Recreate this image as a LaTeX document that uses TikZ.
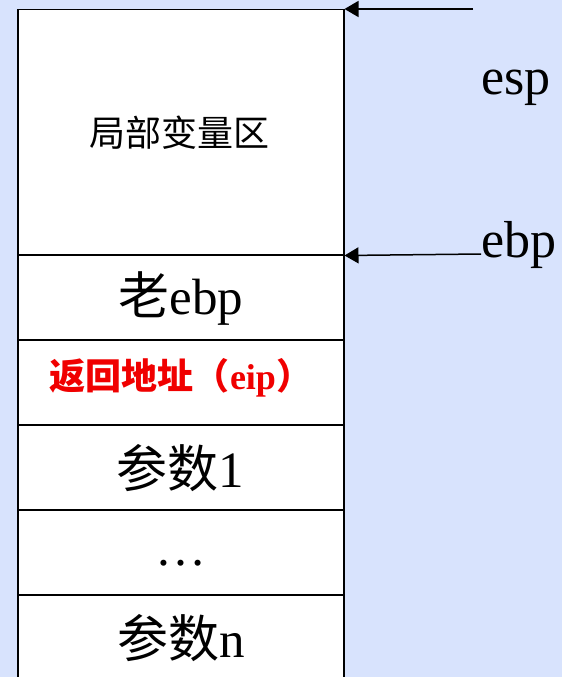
\documentclass[tikz,border=0pt]{standalone}
\usepackage{fontspec}
\setmainfont{Liberation Serif}
\newfontfamily\cjk{Noto Sans CJK SC}
\usetikzlibrary{arrows.meta}
\definecolor{bgblue}{RGB}{216,227,253}
\definecolor{retred}{RGB}{240,0,0}
\begin{document}
\begin{tikzpicture}[x=1pt,y=-1pt,
  cell/.style={draw=black,line width=1.5pt,fill=white,minimum width=326pt,inner sep=0pt,anchor=north west},
  ptr/.style={draw=black,line width=1.5pt,arrows={-Triangle[length=14pt,width=16pt,fill=black]}},
  big/.style={inner sep=0pt,font=\fontsize{51}{51}\selectfont},
  lab/.style={inner sep=0pt,font=\fontsize{52}{52}\selectfont}]
\useasboundingbox (0,0) rectangle (562,677);
\fill[bgblue] (0,0) rectangle (562,677);
\node[cell,minimum height=245pt] (local) at (17,9) {};
\node[cell,minimum height=85pt] (oldebp) at (17,254) {};
\node[cell,minimum height=85pt] (ret) at (17,339) {};
\node[cell,minimum height=85pt] (arg1) at (17,424) {};
\node[cell,minimum height=85pt] (dots) at (17,509) {};
\node[cell,minimum height=100pt] (argn) at (17,594) {};
\node[inner sep=0pt,font=\fontsize{36}{36}\selectfont\cjk] at (179,133) {局部变量区};
\node[big] at (181,299) {{\cjk 老}ebp};
\node[inner sep=0pt,font=\fontsize{36}{36}\selectfont\bfseries,text=retred] at (181,378) {{\cjk 返回地址（}eip{\cjk ）}};
\node[big] at (180,468) {{\cjk 参数}1};
\node[big] at (181,563) {\dots};
\node[big] at (181,638) {{\cjk 参数}n};
\coordinate (espstart) at (473,9);
\coordinate (ebpstart) at (481,254);
\draw[ptr] (espstart) -- (local.north east);
\draw[ptr] (ebpstart) -- (local.south east);
\node[lab,anchor=west] (esp) at (481,88) {esp};
\node[lab,anchor=west] (ebp) at (481,245) {ebp};
\end{tikzpicture}
\end{document}
